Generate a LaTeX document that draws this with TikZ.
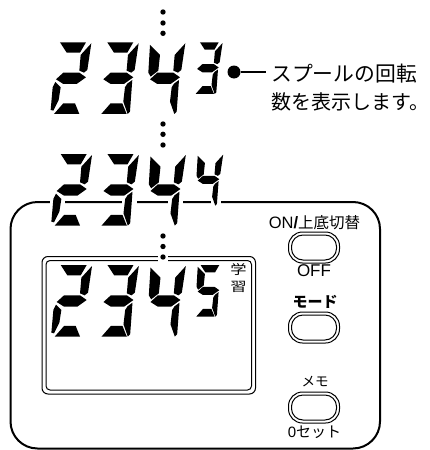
\documentclass[tikz,border=0pt]{standalone}
\usepackage{fontspec}
\setmainfont{Liberation Sans}
\newfontfamily\jp{Noto Sans CJK JP}
\newcommand{\sega}{\fill (90,0)--(168,0)--(150,31)--(110,31)--cycle;}
\newcommand{\segb}{\fill (184,3)--(172,83)--(162,91)--(148,85)--(152,38)--cycle;}
\newcommand{\segc}{\fill (165,113)--(158,208)--(151,215)--(138,178)--(143,135)--(150,124)--cycle;}
\newcommand{\segd}{\fill (72,215)--(100,183)--(135,183)--(148,215)--cycle;}
\newcommand{\sege}{\fill (76,119)--(92,135)--(86,173)--(70,205)--(62,203)--(68,135)--cycle;}
\newcommand{\segf}{\fill (78,8)--(108,38)--(103,85)--(80,103)--(73,91)--cycle;}
\newcommand{\segg}{\fill (78,111)--(100,91)--(148,91)--(168,105)--(140,125)--(100,125)--cycle;}
\newcommand{\digitat}[4]{\begin{scope}[shift={(#1,#2)},x=#3*0.3333pt,y=-#3*0.3333pt]#4\end{scope}}
\newcommand{\dtwo}{\sega\segb\segg\sege\segd}
\newcommand{\dthree}{\sega\segb\segg\segc\segd}
\newcommand{\dfour}{\segf\segb\segg\segc}
\newcommand{\dfive}{\sega\segf\segg\segc\segd}
\tikzset{
  px/.style={x=1pt,y=-1pt},
  label/.style={inner sep=0pt,font=\jp},
  dotmark/.style={circle,fill=black,inner sep=0pt,minimum size=5.4pt},
  btnout/.style={draw=black,line width=1pt,rounded corners=14pt},
  btnin/.style={draw=black,line width=1pt,rounded corners=11.5pt}
}
\newcommand{\button}[2]{
  \draw[btnout] (#1-25.5,#2-15.5) rectangle (#1+25.5,#2+15.5);
  \draw[btnin] (#1-22.5,#2-12.5) rectangle (#1+22.5,#2+12.5);
}
\begin{document}
\begin{tikzpicture}[px]
\useasboundingbox (0,0) rectangle (429,450);
\fill[white] (0,0) rectangle (429,450);
% body
\draw[line width=2pt,rounded corners=27pt] (10.5,202) rectangle (380,448.5);
\fill[white] (50,199) rectangle (65,205);
\fill[white] (122,199) rectangle (137,205);
\fill[white] (168,199) rectangle (183,205);
\fill[white] (211,199) rectangle (221,205);
% display
\draw[line width=1pt,rounded corners=6pt] (42,256.5) rectangle (255.5,394);
\draw[line width=1pt,rounded corners=4pt] (46,260.5) rectangle (251.5,390);
\fill[white] (158,254) rectangle (168,263);
% digits
\digitat{30}{42.3}{1}{\dtwo}
\digitat{77.3}{42.3}{1}{\dthree}
\digitat{124}{42.3}{1}{\dfour}
\digitat{178.4}{42.3}{.72}{\dthree}
\digitat{30.7}{154}{1}{\dtwo}
\digitat{77.5}{154}{1}{\dthree}
\digitat{124.5}{154}{1}{\dfour}
\digitat{179}{154}{.72}{\dfour}
\digitat{30.7}{265}{1}{\dtwo}
\digitat{77.5}{265}{1}{\dthree}
\digitat{124.5}{265}{1}{\dfour}
\digitat{179}{265}{.72}{\dfive}
% dots
\foreach \n/\y in {a/12,b/23,c/33.3,d/124,e/134.3,f/145,g/236,h/246.5,i/257}
  \node[dotmark] (dot\n) at (163,\y) {};
% callout
\node[circle,fill=black,inner sep=0pt,minimum size=13pt] (bullet) at (234,72) {};
\coordinate (lead) at (266,72);
\draw[line width=1.2pt] (bullet) -- (lead);
\node[label,anchor=west,font=\jp\fontsize{20.8}{24}\selectfont] (t1) at (271,74) {スプールの回転};
\node[label,anchor=west,font=\jp\fontsize{20}{24}\selectfont] (t2) at (271,102) {数を表示します。};
% buttons
\button{314}{247.5}
\button{314}{327.5}
\button{314}{407.5}
\node[label,font=\fontsize{16.5}{18}\selectfont] (on) at (314.5,223) {ON\textbf{/}{\jp\fontsize{15.5}{18}\selectfont 上底切替}};
\node[label,font=\fontsize{17}{18}\selectfont] (off) at (314,271) {OFF};
\node[label,font=\jp\bfseries\fontsize{15}{18}\selectfont] (mode) at (315,302) {モード};
\node[label,font=\jp\fontsize{13.5}{16}\selectfont] (memo) at (315,382) {メモ};
\node[label,font=\fontsize{15}{16}\selectfont] (zero) at (314.5,432) {0{\jp セット}};
\node[label] (gaku) at (238.5,270) {\scalebox{1.25}[1]{\jp\fontsize{13}{14}\selectfont 学}};
\node[label] (shu) at (238.5,287) {\scalebox{1.25}[1]{\jp\fontsize{13}{14}\selectfont 習}};
\end{tikzpicture}
\end{document}
